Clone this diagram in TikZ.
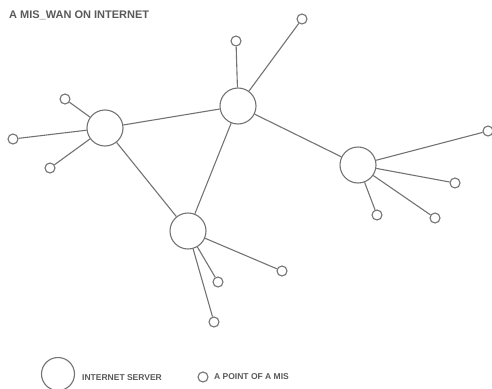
\documentclass[tikz,border=0pt]{standalone}
\usepackage{fontspec}
\setmainfont{Liberation Sans}
\begin{document}
\begin{tikzpicture}[x=1pt,y=-1pt,
  server/.style={circle,draw=black!55,line width=1.1pt,minimum size=36pt,inner sep=0pt},
  point/.style={circle,draw=black!55,line width=1.1pt,minimum size=10pt,inner sep=0pt},
  link/.style={draw=black!55,line width=1.1pt},
  lbl/.style={text=black!65,font=\bfseries,inner sep=0pt,anchor=west}]
\useasboundingbox (0,0) rectangle (492,388);
\node[lbl,font=\bfseries\fontsize{11}{13}\selectfont] (title) at (9,15) {A MIS\_WAN ON INTERNET};
% servers
\node[server] (A) at (105,128) {};
\node[server] (B) at (238,106) {};
\node[server] (C) at (358,165) {};
\node[server] (D) at (188,231) {};
% points
\node[point] (a1) at (65,99) {};
\node[point] (a2) at (13,139) {};
\node[point] (a3) at (50,168) {};
\node[point] (b1) at (236,41) {};
\node[point] (b2) at (302,19) {};
\node[point] (c1) at (488,131) {};
\node[point] (c2) at (455,183) {};
\node[point] (c3) at (377,215) {};
\node[point] (c4) at (435,218) {};
\node[point] (d1) at (218,282) {};
\node[point] (d2) at (282,271) {};
\node[point] (d3) at (214,322) {};
% links
\draw[link] (A) -- (B);
\draw[link] (B) -- (C);
\draw[link] (B) -- (D);
\draw[link] (A) -- (D);
\foreach \p in {a1,a2,a3} \draw[link] (A) -- (\p);
\foreach \p in {b1,b2} \draw[link] (B) -- (\p);
\foreach \p in {c1,c2,c3,c4} \draw[link] (C) -- (\p);
\foreach \p in {d1,d2,d3} \draw[link] (D) -- (\p);
% legend
\node[server,minimum size=33pt] (ls) at (58,374) {};
\node[lbl,font=\bfseries\fontsize{8.5}{10}\selectfont] (lst) at (82,378) {INTERNET SERVER};
\node[point] (lp) at (203,377) {};
\node[lbl,font=\bfseries\fontsize{8.5}{10}\selectfont] (lpt) at (214,377) {A POINT OF A MIS};
\end{tikzpicture}
\end{document}
